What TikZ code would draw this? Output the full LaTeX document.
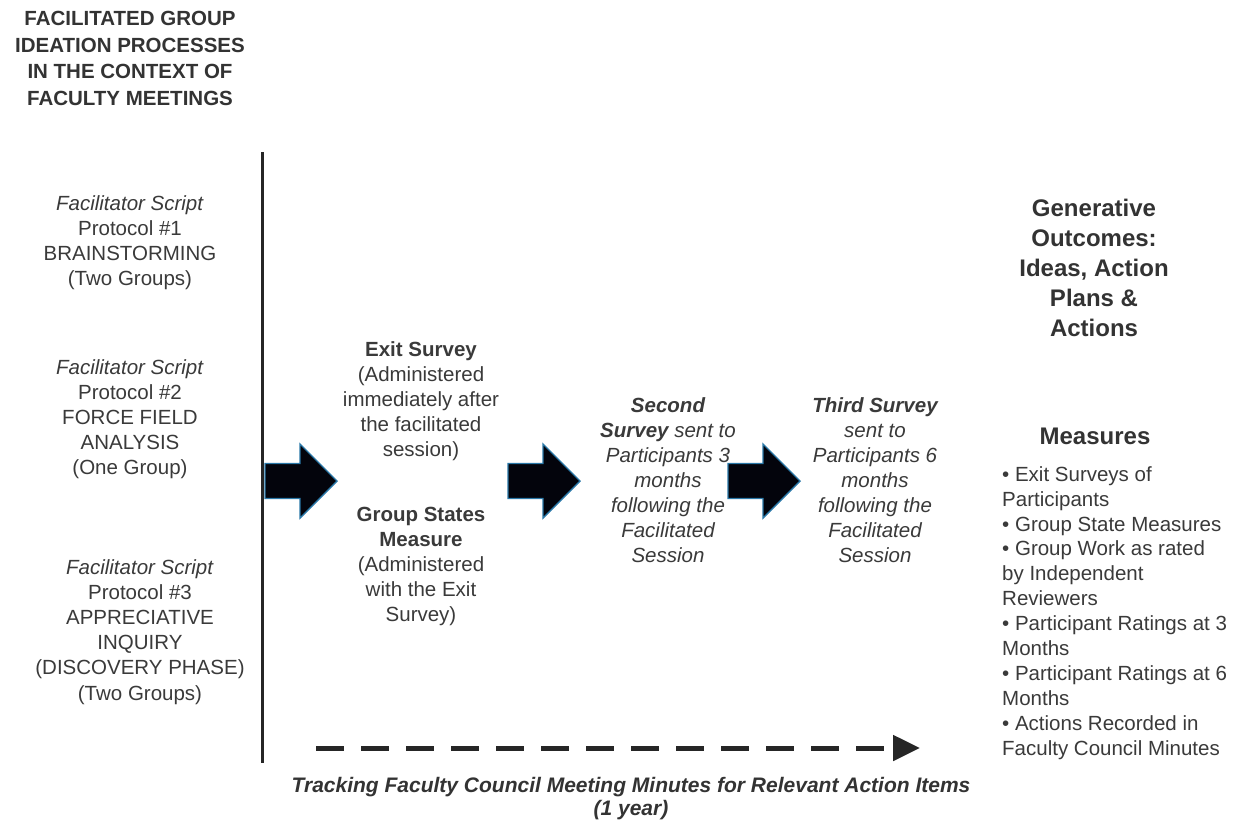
\documentclass[tikz,border=0pt]{standalone}
\usepackage{fontspec}
\setmainfont{Liberation Sans}
\usetikzlibrary{arrows.meta}
\definecolor{txt}{HTML}{3A3A3A}
\definecolor{ttl}{HTML}{333333}
\definecolor{arrowfill}{HTML}{03040C}
\definecolor{arrowedge}{HTML}{2A78A8}
\tikzset{
  lbl/.style={align=center, inner sep=0pt, anchor=north, text=txt, font=\fontsize{20.5}{25.2}\selectfont},
  ital/.style={lbl, font=\itshape\fontsize{20.5}{24.9}\selectfont},
  ttlstyle/.style={lbl, text=ttl, font=\bfseries\fontsize{20.5}{26.5}\selectfont},
  big/.style={lbl, text=ttl, font=\bfseries\fontsize{24}{30}\selectfont},
  listbox/.style={lbl, align=left, anchor=north west, font=\fontsize{20.5}{24.9}\selectfont},
  trackstyle/.style={lbl, text=ttl, font=\bfseries\itshape\fontsize{21}{23}\selectfont},
  barrow/.pic={\draw[fill=arrowfill, draw=arrowedge, line width=1.4pt, line join=miter]
     (0,-17.5) -- (35,-17.5) -- (35,-37) -- (72,0) -- (35,37) -- (35,17.5) -- (0,17.5) -- cycle;},
  timeline/.style={line width=5pt, draw=black!85, dash pattern=on 28pt off 17pt,
     -{Triangle[length=27pt,width=25pt]}}
}
\begin{document}
\begin{tikzpicture}[x=1pt,y=-1pt]
\useasboundingbox[fill=white] (0,0) rectangle (1244,822);

% title
\node[ttlstyle] (title) at (130,6.8) {\strut FACILITATED GROUP\\IDEATION PROCESSES\\IN THE CONTEXT OF\\FACULTY MEETINGS};

% left protocols
\node[lbl] (p1) at (130,192.3) {\strut\textit{Facilitator Script}\\Protocol \#1\\BRAINSTORMING\\(Two Groups)};
\node[lbl] (p2) at (130,356.3) {\strut\textit{Facilitator Script}\\Protocol \#2\\FORCE FIELD\\ANALYSIS\\(One Group)};
\node[lbl] (p3) at (140,556.3) {\strut\textit{Facilitator Script}\\Protocol \#3\\APPRECIATIVE\\INQUIRY\\(DISCOVERY PHASE)\\(Two Groups)};

% divider
\coordinate (vtop) at (262,152);
\coordinate (vbot) at (262,763);
\draw[line width=3pt, draw=black!85] (vtop) -- (vbot);

% middle column
\node[lbl] (exit) at (421,338.3) {\strut\textbf{Exit Survey}\\(Administered\\immediately after\\the facilitated\\session)};
\node[lbl] (gsm) at (421,503.3) {\strut\textbf{Group States}\\\textbf{Measure}\\(Administered\\with the Exit\\Survey)};

% surveys
\node[ital] (s2) at (668,395.3) {\strut\textbf{Second}\\\textbf{Survey} sent to\\Participants 3\\months\\following the\\Facilitated\\Session};
\node[ital] (s3) at (875,395.3) {\strut\textbf{Third Survey}\\sent to\\Participants 6\\months\\following the\\Facilitated\\Session};

% block arrows
\pic (a1) at (265,481) {barrow};
\pic (a2) at (508,481) {barrow};
\pic (a3) at (728,481) {barrow};

% right column
\node[big] (gen) at (1094,195.6) {\strut Generative\\Outcomes:\\Ideas, Action\\Plans \&\\Actions};
\node[big] (meas) at (1095,423.6) {\strut Measures};
\node[listbox] (mlist) at (1002,463.6) {\strut • Exit Surveys of\\Participants\\• Group State Measures\\• Group Work as rated\\by Independent\\Reviewers\\• Participant Ratings at 3\\Months\\• Participant Ratings at 6\\Months\\• Actions Recorded in\\Faculty Council Minutes};

% timeline
\coordinate (dstart) at (316,748);
\coordinate (dend) at (920,748);
\draw[timeline] (dstart) -- (dend);
\node[trackstyle] (track) at (631,776.4) {\strut Tracking Faculty Council Meeting Minutes for Relevant Action Items\\(1 year)};
\end{tikzpicture}
\end{document}
